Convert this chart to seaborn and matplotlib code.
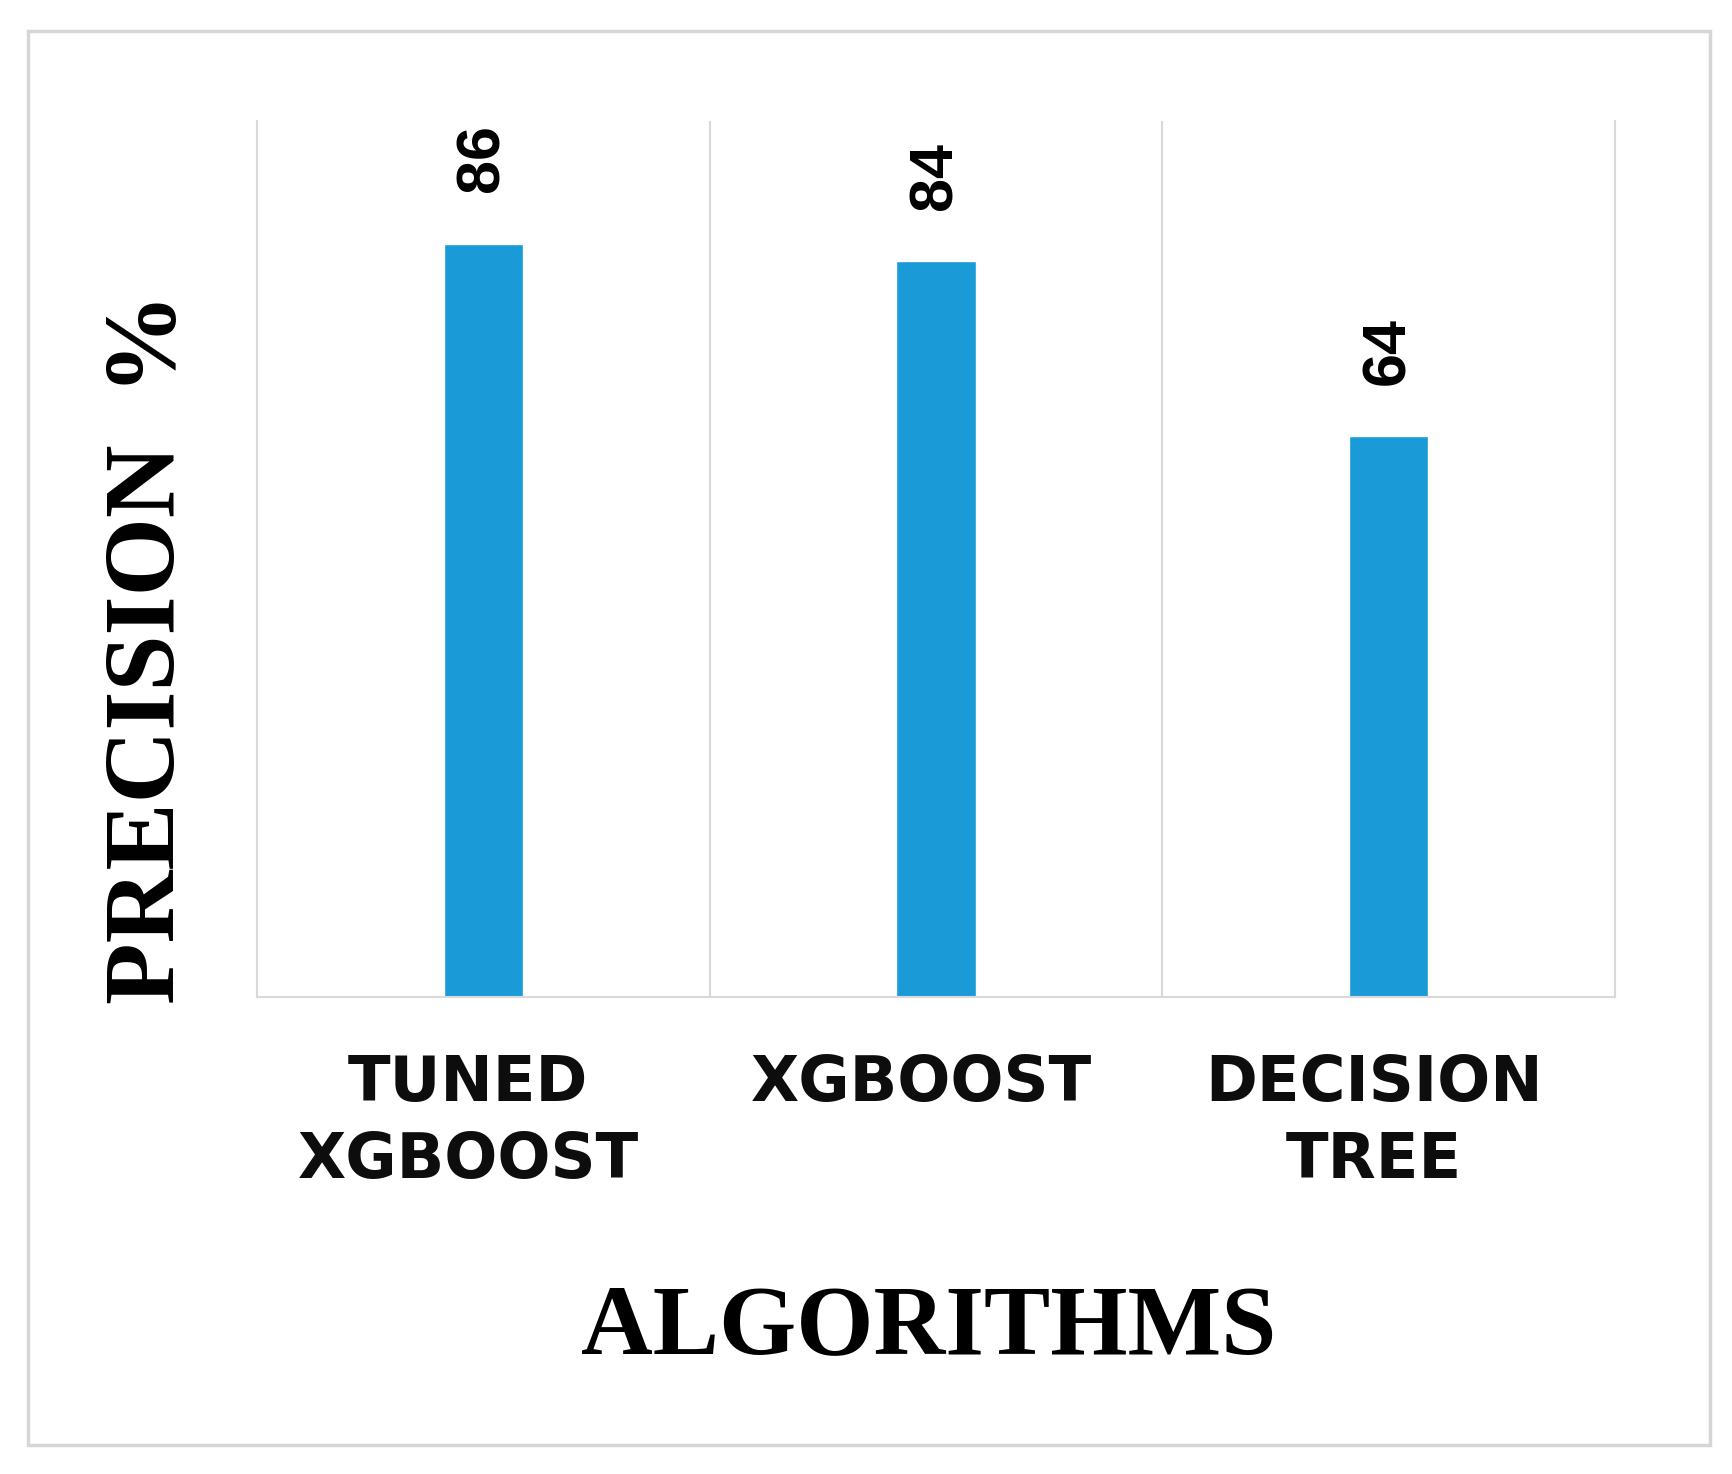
import matplotlib
matplotlib.use("Agg")
import matplotlib.pyplot as plt
import matplotlib.patches as mpatches
import matplotlib.transforms as mtransforms
import seaborn as sns
import pandas as pd

categories = ["TUNED\nXGBOOST", "XGBOOST", "DECISION\nTREE"]
precision = [86, 84, 64]
y_label = "PRECISION  %"
x_label = "ALGORITHMS"

sns.set_theme(style="white")
plt.rcParams['font.family'] = ['DejaVu Sans']

fig = plt.figure(figsize=(17.32, 14.74), dpi=100)
fig.patch.set_facecolor("white")
ax = fig.add_axes([0.1484, 0.3236, 0.9324 - 0.1484, 0.918 - 0.3236])

df = pd.DataFrame({"alg": categories, "val": precision})
sns.barplot(data=df, x="alg", y="val", color="#1A9BD7", width=0.176,
            saturation=1, ax=ax)

ax.set_ylim(0, 100)
ax.set_xlim(-0.5, 2.5)
ax.set_yticks([])
ax.set_xlabel("")
ax.set_ylabel("")

grid_c = "#D9D9D9"
for s in ["left", "right", "bottom"]:
    ax.spines[s].set_color(grid_c)
    ax.spines[s].set_linewidth(1.5)
ax.spines["top"].set_visible(False)
ax.set_xticks([0.5, 1.5], minor=True)
ax.grid(True, which="minor", axis="x", color=grid_c, linewidth=1.5)
ax.tick_params(axis="x", which="both", length=0, pad=41)

shift = mtransforms.ScaledTranslation(-15 / 100, 0, fig.dpi_scale_trans)
for lab in ax.get_xticklabels():
    lab.set_fontfamily("DejaVu Sans")
    lab.set_fontweight("bold")
    lab.set_fontsize(45)
    lab.set_multialignment("center")
    lab.set_linespacing(1.36)
    lab.set_color("#0D0D0D")
    lab.set_transform(lab.get_transform() + shift)

for cont in ax.containers:
    ax.bar_label(cont, labels=[str(v) for v in precision], rotation=90,
                 padding=37, fontsize=44, fontweight="bold",
                 fontfamily="Liberation Sans", color="black")

fig.text(0.0865, 0.560, y_label, rotation=90, ha="center", va="center",
         fontsize=72.5, fontweight="bold", fontfamily="Liberation Serif",
         color="black")
fig.text(0.5364, 0.098, x_label, ha="center", va="center",
         fontsize=71.5, fontweight="bold", fontfamily="Liberation Serif",
         color="black")

border = mpatches.Rectangle((0.0162, 0.0197), 0.9873 - 0.0162, 0.979 - 0.0197,
                            transform=fig.transFigure, fill=False,
                            edgecolor="#D6D6D6", linewidth=2.5)
fig.patches.append(border)

fig.savefig("out.png", dpi=100, facecolor="white")
